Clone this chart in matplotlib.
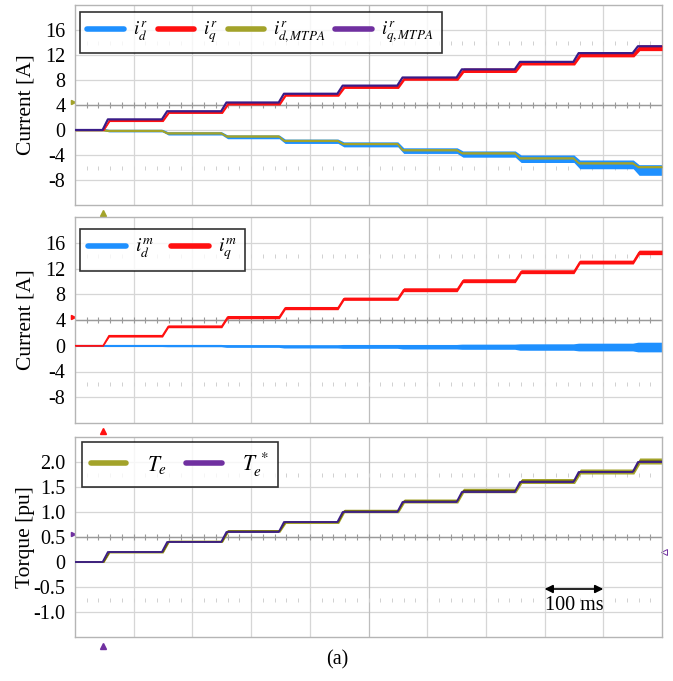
import numpy as np
import matplotlib
matplotlib.use('Agg')
import matplotlib.pyplot as plt
from matplotlib.lines import Line2D

plt.rcParams['font.family'] = ['Liberation Serif', 'DejaVu Serif']
plt.rcParams['mathtext.fontset'] = 'stix'

# step instants [ms] and plateau levels
step_ms = [47, 148, 249, 347, 447, 549, 650, 749, 849, 950]

# panel 1 : rotor-frame currents [A]
iq_ref = [0, 1.7, 3.0, 4.4, 5.8, 7.1, 8.4, 9.7, 10.9, 12.3, 13.4]
iq_meas = [0, 1.55, 2.85, 4.25, 5.65, 6.95, 8.25, 9.55, 10.75, 12.1, 13.15]
iq_noise = [0.1, 0.2, 0.2, 0.25, 0.25, 0.3, 0.3, 0.35, 0.35, 0.4, 0.45]
id_ref = [0, -0.1, -0.5, -1.0, -1.7, -2.2, -3.2, -3.7, -4.5, -5.3, -5.9]
id_meas = [0.05, -0.1, -0.55, -1.1, -1.8, -2.3, -3.3, -3.85, -4.6, -5.5, -6.4]
id_noise = [0.15, 0.2, 0.25, 0.3, 0.35, 0.4, 0.45, 0.5, 0.6, 0.7, 0.85]

# panel 2 : machine-frame currents [A]
iqm = [0, 1.55, 3.0, 4.45, 5.85, 7.3, 8.7, 10.1, 11.5, 13.0, 14.5]
iqm_noise = [0.05, 0.2, 0.2, 0.25, 0.25, 0.25, 0.3, 0.3, 0.3, 0.3, 0.35]
idm = [0, 0, 0, -0.05, -0.1, -0.1, -0.15, -0.15, -0.2, -0.2, -0.2]
idm_noise = [0.1, 0.12, 0.15, 0.2, 0.25, 0.3, 0.35, 0.4, 0.5, 0.6, 0.75]

# panel 3 : torque [pu]
te_ref = [0, 0.2, 0.4, 0.6, 0.8, 1.0, 1.2, 1.4, 1.6, 1.8, 2.0]
te = [0, 0.2, 0.41, 0.62, 0.8, 1.02, 1.22, 1.43, 1.62, 1.81, 2.02]
te_noise = [0.01, 0.02, 0.02, 0.025, 0.03, 0.035, 0.04, 0.045, 0.05, 0.05, 0.06]

c_blue = '#1E90FF'
c_red = '#FF1010'
c_olive = '#A3A32A'
c_purple = '#7030A0'
c_purple_dk = '#3A1C88'


def staircase(levels, delay, rise):
    t = [0.0]
    y = [levels[0]]
    for k, ts in enumerate(step_ms):
        t += [ts + delay, ts + delay + rise]
        y += [levels[k], levels[k + 1]]
    t.append(1000.0)
    y.append(levels[-1])
    return np.array(t), np.array(y)


def trace(ax, levels, noise, color, lw, delay=0.0, rise=9.0, z=2):
    t, y = staircase(levels, delay, rise)
    if noise is not None:
        _, n = staircase(noise, delay, rise)
        ax.fill_between(t, y - n, y + n, color=color, lw=0, zorder=z)
    ax.plot(t, y, color=color, lw=lw, zorder=z + 0.1)


W, H = 673, 681
fig = plt.figure(figsize=(W / 100, H / 100), dpi=100)


def make_ax(x0, y0, x1, y1):
    return fig.add_axes([x0 / W, 1 - y1 / H, (x1 - x0) / W, (y1 - y0) / H])


def scope(ax, lo, step, ticks, labels, ylabel):
    hi = lo + 8 * step
    ax.set_xlim(0, 1000)
    ax.set_ylim(lo, hi)
    ax.set_xticks(np.arange(0, 1001, 100))
    ax.set_xticklabels([])
    ax.set_yticks(ticks)
    ax.set_yticklabels(labels, fontsize=14.5)
    ax.tick_params(length=0, pad=7)
    for v in np.arange(lo + step, hi, step):
        ax.axhline(v, color='#D6D6D6', lw=0.9, zorder=0)
    for v in range(100, 1000, 100):
        ax.axvline(v, color='#D6D6D6' if v != 500 else '#BDBDBD', lw=0.9, zorder=0)
    mid = lo + 4 * step
    ax.axhline(mid, color='#9A9A9A', lw=1.0, zorder=0.5)
    tt = np.arange(20, 1000, 20)
    ax.plot(tt, np.full(tt.size, mid), ls='none', marker='|', ms=5, mew=0.8,
            color='#9A9A9A', zorder=0.5)
    for v in (mid + 2.5 * step, mid - 2.5 * step):
        ax.plot(tt, np.full(tt.size, v), ls='none', marker='|', ms=3, mew=0.7,
                color='#D0D0D0', zorder=0.5)
    for s in ax.spines.values():
        s.set_color('#B5B5B5')
        s.set_linewidth(1.0)
    ax.set_ylabel(ylabel, fontsize=15.5)
    ax.yaxis.set_label_coords(-0.068, 0.5)
    return mid


def handles(cols):
    return [Line2D([], [], color=c, lw=4, solid_capstyle='round') for c in cols]


def legend(ax, cols, labels, anchor, size=14, hlen=1.95, textpad=0.48, colsp=0.85):
    lg = ax.legend(handles(cols), labels, loc='upper left', bbox_to_anchor=anchor,
                   ncol=len(cols), fontsize=size, frameon=True, fancybox=False,
                   edgecolor='black', borderaxespad=0, handlelength=hlen,
                   handletextpad=textpad, columnspacing=colsp, borderpad=0.4)
    lg.get_frame().set_linewidth(1.2)
    lg.set_zorder(10)


# ---- panel 1
ax1 = make_ax(75, 5, 662, 205)
mid1 = scope(ax1, -12, 4, [-8, -4, 0, 4, 8, 12, 16],
             ['-8', '-4', '0', '4', '8', '12', '16'], 'Current [A]')
trace(ax1, id_meas, id_noise, c_blue, 1.0, delay=1, rise=10, z=2)
trace(ax1, id_ref, [0.15] * 11, c_olive, 1.2, z=3)
trace(ax1, iq_meas, iq_noise, c_red, 1.0, delay=2, rise=10, z=4)
trace(ax1, iq_ref, None, c_purple_dk, 1.6, z=5)
legend(ax1, [c_blue, c_red, c_olive, c_purple],
       [r'$i^{r}_{d}$', r'$i^{r}_{q}$', r'$i^{r}_{d,MTPA}$', r'$i^{r}_{q,MTPA}$'],
       (0.0085, 0.965), size=13.5, hlen=1.95, textpad=0.5, colsp=0.5)
ax1.plot([step_ms[0]], [-13.3], marker='^', ms=4, color=c_olive, clip_on=False)
ax1.plot([-3], [mid1 + 0.5], marker='>', ms=3, color=c_olive, clip_on=False)

# ---- panel 2
ax2 = make_ax(75, 217, 662, 423)
mid2 = scope(ax2, -12, 4, [-8, -4, 0, 4, 8, 12, 16],
             ['-8', '-4', '0', '4', '8', '12', '16'], 'Current [A]')
trace(ax2, idm, idm_noise, c_blue, 1.2, z=2)
trace(ax2, iqm, iqm_noise, c_red, 1.2, delay=1, rise=10, z=3)
legend(ax2, [c_blue, c_red], [r'$i^{m}_{d}$', r'$i^{m}_{q}$'], (0.0085, 0.942))
ax2.plot([step_ms[0]], [-13.3], marker='^', ms=4, color=c_red, clip_on=False)
ax2.plot([-3], [mid2 + 0.5], marker='>', ms=3, color=c_red, clip_on=False)

# ---- panel 3
ax3 = make_ax(75, 437, 662, 637)
mid3 = scope(ax3, -1.5, 0.5, [-1.0, -0.5, 0, 0.5, 1.0, 1.5, 2.0],
             ['-1.0', '-0.5', '0', '0.5', '1.0', '1.5', '2.0'], 'Torque [pu]')
trace(ax3, te, te_noise, c_olive, 1.2, delay=2, rise=10, z=2)
trace(ax3, te, None, '#5A4A10', 0.8, delay=2, rise=10, z=3)
trace(ax3, te_ref, None, c_purple_dk, 1.3, z=4)
legend(ax3, [c_olive, c_purple], [r'$T_e$', r'$T_e^{\,*}\;\;$'], (0.012, 0.975),
       size=15.5, hlen=1.65, textpad=0.95, colsp=0.9)
ax3.plot([step_ms[0]], [-1.67], marker='^', ms=4, color=c_purple, clip_on=False)
ax3.plot([-3], [mid3 + 0.06], marker='>', ms=3, color=c_purple, clip_on=False)
ax3.plot([1003], [0.2], marker='<', ms=4, mfc='none', mec=c_purple, mew=0.7,
         clip_on=False)

ax3.annotate('', xy=(800, -0.54), xytext=(900, -0.54),
             arrowprops=dict(arrowstyle='<|-|>', color='black', lw=1.2,
                             shrinkA=0, shrinkB=0, mutation_scale=12))
ax3.text(850, -0.88, '100 ms', fontsize=14.5, ha='center', va='center')

fig.text(337 / W, 1 - 660 / H, '(a)', fontsize=14.5, ha='center', va='center')

fig.savefig('out.png', dpi=100)
